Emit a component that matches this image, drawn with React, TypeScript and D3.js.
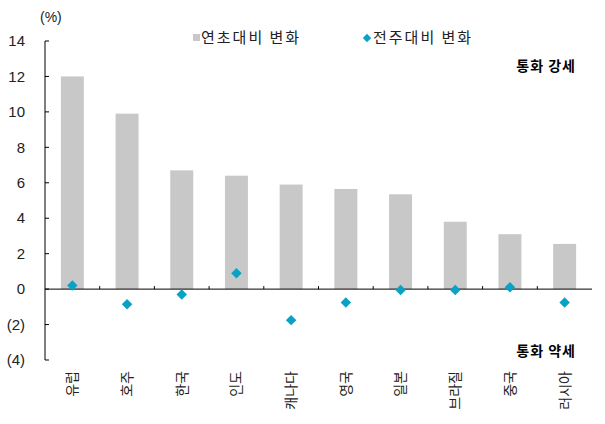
import React from 'react';
import * as d3 from 'd3';

const countries = ['유럽', '호주', '한국', '인도', '캐나다', '영국', '일본', '브라질', '중국', '러시아'];
const ytdChange = [12.0, 9.9, 6.7, 6.4, 5.9, 5.65, 5.35, 3.8, 3.1, 2.55];
const wowChange = [0.2, -0.85, -0.3, 0.9, -1.75, -0.75, -0.05, -0.05, 0.1, -0.75];
const yTicks = [14, 12, 10, 8, 6, 4, 2, 0, -2, -4];
const legendNames = ['연초대비 변화', '전주대비 변화'];

const W = 605;
const H = 424;
const margin = { top: 41, right: 13, bottom: 64, left: 45 };
const FONT = '"Noto Sans CJK KR", "Noto Sans", sans-serif';
const NUM_FONT = '"Liberation Sans", Arial, sans-serif';
const BAR = '#c8c8c8';
const DOT = '#0aa2c4';

const fmt = (v: number) => (v < 0 ? `(${Math.abs(v)})` : `${v}`);

export default function App() {
  const x = d3
    .scaleBand<string>()
    .domain(countries)
    .range([margin.left, W - margin.right])
    .paddingInner(0.58)
    .paddingOuter(0.29);
  const step = x.step();
  const y = d3.scaleLinear().domain([-4, 14]).range([H - margin.bottom, margin.top]);
  const diamond = d3.symbol().type(d3.symbolDiamond2).size(70)();
  const x0 = margin.left;
  const x1 = W - margin.right;
  const zeroY = y(0);

  return (
    <svg width={W} height={H} style={{ position: 'absolute', left: 0, top: 0, background: '#fff' }} fontFamily={FONT}>
      {/* bars */}
      {countries.map((c, i) => (
        <rect key={c} x={x(c)} width={x.bandwidth()} y={y(ytdChange[i])} height={zeroY - y(ytdChange[i])} fill={BAR} />
      ))}

      {/* y axis */}
      <line x1={x0} x2={x0} y1={y(14)} y2={y(-4)} stroke="#000" strokeWidth={1} />
      {yTicks.map((t) => (
        <g key={t}>
          <line x1={x0} x2={x0 + 4} y1={y(t)} y2={y(t)} stroke="#000" />
          <text x={25} y={y(t)} dy="0.35em" textAnchor="end" fontSize={15} fill="#222" fontFamily={NUM_FONT}>
            {fmt(t)}
          </text>
        </g>
      ))}

      {/* zero line with category separators */}
      <line x1={x0} x2={x1} y1={zeroY} y2={zeroY} stroke="#000" strokeWidth={1} />
      {countries.slice(1).map((c) => {
        const sx = (x(c) as number) - (step - x.bandwidth()) / 2;
        return <line key={c} x1={sx} x2={sx} y1={zeroY} y2={zeroY - 3} stroke="#000" />;
      })}

      {/* diamonds */}
      {countries.map((c, i) => (
        <path
          key={c}
          d={diamond as string}
          transform={`translate(${(x(c) as number) + x.bandwidth() / 2},${y(wowChange[i])})`}
          fill={DOT}
        />
      ))}

      {/* category labels */}
      {countries.map((c) => {
        const cx = (x(c) as number) + x.bandwidth() / 2;
        return (
          <text
            key={c}
            transform={`translate(${cx},${H - margin.bottom + 11}) rotate(-90)`}
            textAnchor="end"
            dy="0.35em"
            fontSize={14}
            fill="#222"
          >
            {c}
          </text>
        );
      })}

      {/* unit */}
      <text x={40} y={22} fontSize={14} fill="#222" fontFamily={NUM_FONT}>(%)</text>

      {/* legend */}
      <rect x={193} y={34} width={7} height={7} fill={BAR} />
      <text x={201} y={43} fontSize={15} letterSpacing={2} fill="#222">{legendNames[0]}</text>
      <path d={d3.symbol().type(d3.symbolDiamond2).size(45)() as string} transform="translate(367,38)" fill={DOT} />
      <text x={373} y={43} fontSize={15} letterSpacing={2} fill="#222">{legendNames[1]}</text>

      {/* annotations */}
      <text x={576} y={71} textAnchor="end" fontSize={14} letterSpacing={1} fontWeight="bold" fill="#000">통화 강세</text>
      <text x={576} y={356} textAnchor="end" fontSize={14} letterSpacing={1} fontWeight="bold" fill="#000">통화 약세</text>
    </svg>
  );
}
